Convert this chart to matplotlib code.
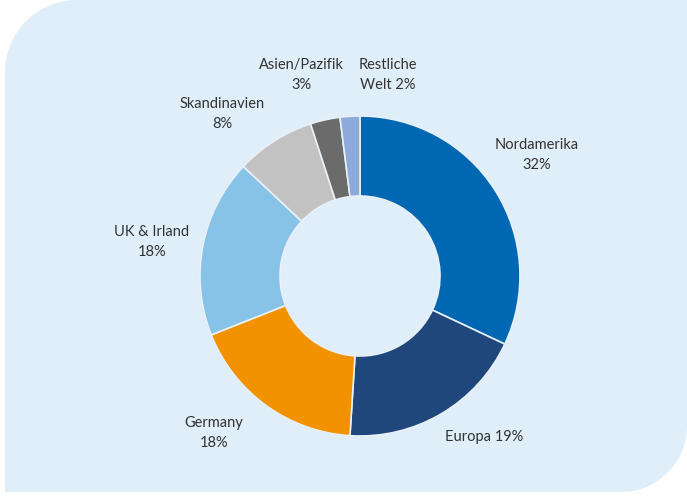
import numpy as np
import matplotlib
matplotlib.use("Agg")
import matplotlib.pyplot as plt
from matplotlib.path import Path
from matplotlib.patches import PathPatch

# Anteile nach Region
regions = ["Nordamerika", "Europa", "Germany", "UK & Irland",
           "Skandinavien", "Asien/Pazifik", "Restliche Welt"]
shares = [32, 19, 18, 18, 8, 3, 2]
labels = ["Nordamerika\n32%", "Europa 19%", "Germany\n18%", "UK & Irland\n18%",
          "Skandinavien\n8%", "Asien/Pazifik\n3%", "Restliche\nWelt 2%"]
colors = ["#0068B3", "#1F477B", "#F39200", "#87C3E7",
          "#C2C2C2", "#6B6B6B", "#8EAADB"]

# label placement tweaks (angle offset in degrees, radial factor)
label_dang = [2, 7, -7, 1.5, 8, 3.5, -11.5]
label_rad = [1.34, 1.27, 1.34, 1.32, 1.33, 1.31, 1.27]

W, H = 687, 497
fig = plt.figure(figsize=(W / 100, H / 100), dpi=100)
ax = fig.add_axes([0, 0, 1, 1])


def rounded_panel(x0, y0, x1, y1, r_tl, r_br, n=30):
    pts = [(x0, y0)]
    t = np.linspace(-np.pi / 2, 0, n)
    pts += list(zip(x1 - r_br + r_br * np.cos(t), y0 + r_br + r_br * np.sin(t)))
    pts.append((x1, y1))
    t = np.linspace(np.pi / 2, np.pi, n)
    pts += list(zip(x0 + r_tl + r_tl * np.cos(t), y1 - r_tl + r_tl * np.sin(t)))
    pts.append((x0, y0))
    return Path(pts, closed=True)


ax.add_patch(PathPatch(rounded_panel(5, 5, 687, 497, 72, 66),
                       facecolor="#DFEEF8", edgecolor="none", zorder=0))

cx, cy, R = 360, 221, 160
wedges, _ = ax.pie(shares, colors=colors, startangle=90, counterclock=False,
                   center=(cx, cy), radius=R, frame=True,
                   wedgeprops=dict(width=R * 0.5, edgecolor="#E8F0F8", linewidth=1.2))
ax.set_xlim(0, W)
ax.set_ylim(0, H)
ax.set_aspect("equal")
ax.axis("off")

for w, lab, da, rf in zip(wedges, labels, label_dang, label_rad):
    ang = np.deg2rad((w.theta1 + w.theta2) / 2 + da)
    ax.text(cx + rf * R * np.cos(ang), cy + rf * R * np.sin(ang), lab,
            ha="center", va="center", fontsize=10.5, color="#333333",
            family="Lato", linespacing=1.55)

fig.savefig("out.png", dpi=100)
